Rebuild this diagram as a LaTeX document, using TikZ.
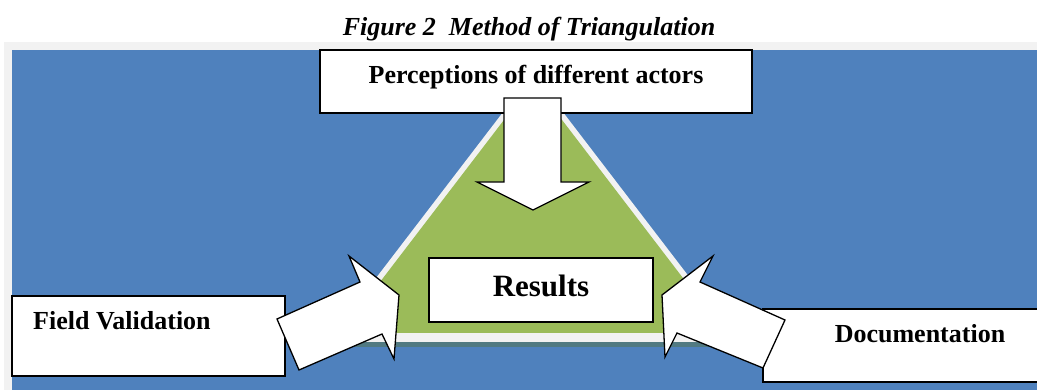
\documentclass[tikz,border=0pt]{standalone}
\usepackage{fontspec}
\setmainfont{Liberation Serif}
\definecolor{bgblue}{HTML}{4F81BD}
\definecolor{lgray}{HTML}{F2F2F2}
\definecolor{tgreen}{HTML}{9BBB59}
\definecolor{shadowc}{HTML}{517A82}
\tikzset{
  labelbox/.style={draw=black, line width=1.3pt, fill=white, inner sep=0pt, outer sep=0pt},
  blockarrow/.style={draw=black, line width=1.3pt, fill=white, line join=miter},
  boxfont/.style={font=\bfseries\fontsize{26}{30}\selectfont, inner sep=0pt}
}
\begin{document}
\begin{tikzpicture}[x=1pt,y=-1pt]
\useasboundingbox (0,0) rectangle (1037,390);
% caption
\node[font=\bfseries\itshape\fontsize{26}{30}\selectfont, anchor=base, inner sep=0pt] (cap) at (529,36) {Figure 2\ \ Method of Triangulation};
% background
\fill[lgray] (4,42) rectangle (1037,390);
\fill[bgblue] (12,50) rectangle (1037,390);
% triangle
\fill[shadowc] (340,341) rectangle (728,347);
\fill[lgray] (533,73) -- (739,342) -- (327,342) -- cycle;
\fill[tgreen] (533,82) -- (725,333) -- (341,333) -- cycle;
% top box
\draw[labelbox] (320,50) rectangle (752,113);
\node[boxfont, anchor=base] (top) at (536,84) {Perceptions of\ different actors};
% down arrow
\draw[blockarrow] (504,98) -- (561,98) -- (561,182) -- (589,182) -- (533,210) -- (477,182) -- (504,182) -- cycle;
% results box
\draw[labelbox] (429,258) rectangle (653,322);
\node[font=\bfseries\fontsize{31}{35}\selectfont, anchor=base, inner sep=0pt] (res) at (541,297) {Results};
% left box
\draw[labelbox] (12,296) rectangle (285,376);
\node[boxfont, anchor=base west] (fv) at (33,330) {Field Validation};
% left arrow
\draw[blockarrow] (277,319) -- (360,282) -- (349,256) -- (399,295) -- (394,359) -- (382,334) -- (299,370) -- cycle;
% right box
\draw[labelbox] (763,309) rectangle (1040,382);
\node[boxfont, anchor=base] (doc) at (920,342) {Documentation};
% right arrow
\draw[blockarrow] (785,320) -- (700,282) -- (713,256) -- (662,295) -- (665,357) -- (677,333) -- (763,368) -- cycle;
\end{tikzpicture}
\end{document}
